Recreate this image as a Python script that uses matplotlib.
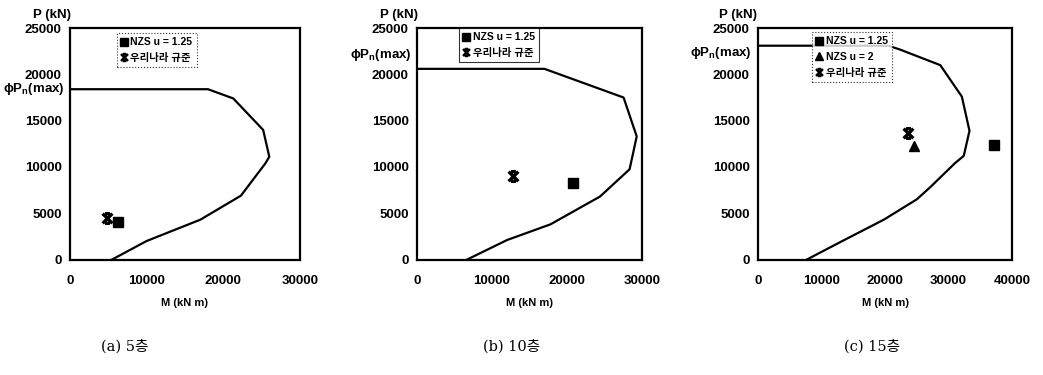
import numpy as np
import matplotlib.pyplot as plt
from matplotlib.path import Path
from matplotlib.lines import Line2D

plt.rcParams['font.family'] = ['Liberation Sans', 'DejaVu Sans', 'Noto Sans CJK KR']

# interaction curves (M in kN m, P in kN)
m_a = [5500, 10000, 17000, 22300, 25500, 26000, 25200, 21300, 18000, 0]
p_a = [0, 2000, 4300, 6900, 10400, 11100, 14000, 17400, 18400, 18400]
m_b = [6700, 12000, 17800, 24400, 28350, 29300, 27550, 17000, 0]
p_b = [0, 2100, 3800, 6800, 9750, 13300, 17500, 20600, 20600]
m_c = [7700, 13000, 19800, 25000, 27100, 31000, 32400, 33300, 32100, 28700, 22300, 20500, 0]
p_c = [0, 1900, 4300, 6500, 7800, 10400, 11200, 13900, 17600, 21000, 22700, 23100, 23100]

# design points
nzs125_m = [6200, 20800, 37100]
nzs125_p = [4100, 8300, 12400]
korea_m = [4800, 12800, 23600]
korea_p = [4450, 9050, 13650]
nzs2_m = [24500]
nzs2_p = [12300]

x_max = [30000, 30000, 40000]
phi_label_y = [18400, 22100, 22300]
captions = ['(a) 5층', '(b) 10층', '(c) 15층']
y_ticks = [0, 5000, 10000, 15000, 20000, 25000]

# X marker with short bars top and bottom
star = Path([(-1, -1), (1, 1), (-1, 1), (1, -1), (-0.5, 1), (0.5, 1), (-0.5, -1), (0.5, -1)],
            [Path.MOVETO, Path.LINETO] * 4)

fig = plt.figure(figsize=(10.43, 3.75), dpi=100)
rects = [[0.0671, 0.308, 0.2205, 0.617],
         [0.3998, 0.308, 0.2157, 0.617],
         [0.7268, 0.308, 0.2435, 0.617]]
curves = [(m_a, p_a), (m_b, p_b), (m_c, p_c)]
leg_pos = [(0.204, 0.978), (0.187, 1.0), (0.213, 0.983)]
leg_style = [':', '-', ':']
leg_font = {'family': ['Liberation Sans', 'Noto Sans CJK KR'], 'size': 7.5, 'weight': 'bold'}

for i in range(3):
    ax = fig.add_axes(rects[i])
    ax.plot(curves[i][0], curves[i][1], color='black', lw=1.6, zorder=2)
    ax.plot(nzs125_m[i], nzs125_p[i], 's', color='black', ms=6.5, ls='none', zorder=3)
    ax.plot(korea_m[i], korea_p[i], marker=star, color='black', mfc='none', ms=7,
            mew=2.4, ls='none', zorder=3)
    handles = [Line2D([], [], marker='s', color='black', ms=5.5, ls='none')]
    labels = ['NZS u = 1.25']
    if i == 2:
        ax.plot(nzs2_m, nzs2_p, '^', color='black', ms=6.5, ls='none', zorder=3)
        handles.append(Line2D([], [], marker='^', color='black', ms=5.5, ls='none'))
        labels.append('NZS u = 2')
    handles.append(Line2D([], [], marker=star, color='black', mfc='none', ms=5, mew=1.8, ls='none'))
    labels.append('우리나라 규준')
    leg = ax.legend(handles, labels, loc='upper left', bbox_to_anchor=leg_pos[i],
                    borderaxespad=0, frameon=True, fancybox=False, handlelength=0.6,
                    handletextpad=0.3, borderpad=0.4, labelspacing=0.55, prop=leg_font)
    leg.get_frame().set_edgecolor('black')
    leg.get_frame().set_linewidth(0.8)
    leg.get_frame().set_linestyle(leg_style[i])
    leg.set_zorder(4)

    ax.set_xlim(0, x_max[i])
    ax.set_ylim(0, 25000)
    ax.set_xticks(np.arange(0, x_max[i] + 1, 10000))
    ax.set_yticks(y_ticks)
    ax.tick_params(axis='x', length=0, labelsize=9.5, pad=11)
    ax.tick_params(axis='y', length=0, labelsize=9.5, pad=6)
    for lab in ax.get_xticklabels() + ax.get_yticklabels():
        lab.set_fontweight('bold')
    for s in ax.spines.values():
        s.set_linewidth(1.6)
    ax.text(-0.025, phi_label_y[i], 'ϕP$_\\mathregular{n}$(max)', transform=ax.get_yaxis_transform(),
            ha='right', va='center', fontsize=9.5, fontweight='bold')
    ax.text(-0.08, 1.03, 'P (kN)', transform=ax.transAxes, ha='center', va='bottom',
            fontsize=9.5, fontweight='bold')
    ax.set_xlabel('M (kN m)', fontsize=8, fontweight='bold', labelpad=8)

cap_x = [125, 512, 872]
for i in range(3):
    fig.text(cap_x[i] / 1043, 1 - 346 / 375, captions[i], ha='center', va='center',
             fontsize=10.5, family=['DejaVu Serif', 'Noto Sans CJK KR'])

fig.savefig('out.png', dpi=100)
